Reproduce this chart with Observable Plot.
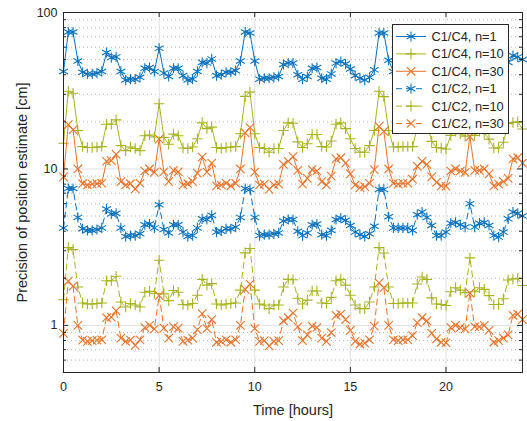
<!DOCTYPE html>
<html><head><meta charset="utf-8">
<script src="https://cdn.jsdelivr.net/npm/d3@7"></script>
<script src="https://cdn.jsdelivr.net/npm/@observablehq/plot@0.6"></script>
<style>body{margin:0;background:#fff;} #chart svg{display:block;}</style>
</head><body><div id="chart"></div>
<script>
// sample times (hours), one sample every 15 minutes
const hours = d3.range(0, 24.001, 0.25);

const c4n1 = [
 42, 75, 75, 49,   41.5, 40.5, 40.5, 41,   42, 55.5, 51.5, 52,   42, 37, 37.5, 37.5,
 38.5, 44, 44.5, 42,   59, 41, 39, 44,   44, 39.5, 37, 37.5,   42, 48, 47.5, 50.5,
 39.5, 40, 41.5, 41.5,   42.5, 49, 75, 74,   49, 37.5, 38, 38,   38.5, 39, 46.5, 47.5,
 47.5, 40, 37.5, 39,   44, 44.5, 38, 37.5,   40.5, 47.5, 48.5, 47,   43.5, 39.5, 38, 37,
 38.5, 43, 74, 74,   49.5, 42, 42, 42,   42, 40.5, 51, 53,   49, 43.5, 37.5, 37.5,
 39.5, 45, 45.5, 44,   42.5, 60, 42.5, 45,   45.5, 43.5, 37.5, 36.7,   39.5, 48, 53, 52,
 50];
const c4n10 = [
 14.6, 31.4, 30.5, 17.6,   13.9, 13.7, 13.7, 13.8,   13.9, 19.3, 19.3, 20.6,   14.1, 13.1, 13.8, 13.5,
 13.1, 16.3, 16.5, 16.0,   26.1, 15.9, 14.4, 16.7,   16.3, 13.6, 13.5, 13.8,   15.6, 19.7, 18.1, 18.5,
 13.7, 13.5, 13.7, 13.8,   13.9, 16.8, 29.1, 31,   16.8, 13.7, 13.5, 12.8,   13.5, 13.5, 17.6, 19.7,
 19.6, 14.9, 13.7, 14.5,   16.6, 16.6, 13.9, 13.8,   15.1, 19.3, 19.7, 18.1,   15.6, 13.5, 12.8, 12.8,
 14.1, 17.6, 31.4, 29,   17.6, 13.8, 13.8, 13.9,   13.9, 13.9, 18.4, 20.4,   19.7, 15, 13.7, 13.6,
 13.4, 16.4, 17.4, 16.8,   16.2, 27, 16.4, 17.4,   17, 15.5, 13.6, 13.6,   14.8, 19.5, 19.8, 20,
 18];
const c4n30 = [
 8.9, 19.2, 17.8, 10.0,   8.05, 7.9, 8.0, 8.05,   8.1, 11.2, 11.3, 12.4,   8.3, 7.9, 8.05, 7.45,
 8.1, 9.7, 10.0, 9.5,   15.5, 9.6, 8.3, 9.8,   9.6, 7.9, 8.05, 8.3,   9.4, 11.9, 9.55, 10.9,
 7.8, 7.9, 8.1, 7.8,   8.1, 10, 17, 18.4,   9.55, 7.9, 8.0, 7.4,   7.9, 8.0, 10.7, 11.2,
 12.0, 9.8, 8.0, 8.7,   9.9, 9.7, 8.3, 7.9,   9.0, 11.6, 11.8, 10.9,   9.3, 7.9, 7.6, 7.7,
 8.1, 9.9, 18.7, 17.4,   10, 8.1, 8.0, 8.1,   8.1, 8.6, 10.4, 11.2,   10.7, 8.9, 8.2, 7.8,
 7.75, 9.7, 10.0, 9.7,   9.5, 16.1, 9.8, 9.8,   10.0, 9.3, 7.8, 8.0,   8.3, 8.7, 11.6, 11.8,
 10.9];
const c2n1 = [
 4.2, 7.5, 7.5, 4.9,   4.15, 4.05, 4.05, 4.1,   4.2, 5.55, 5.15, 5.2,   4.2, 3.7, 3.75, 3.75,
 3.85, 4.4, 4.45, 4.2,   5.9, 4.1, 3.9, 4.4,   4.4, 3.95, 3.7, 3.75,   4.2, 4.8, 4.75, 5.05,
 3.95, 4.0, 4.15, 4.15,   4.25, 4.9, 7.5, 7.4,   4.9, 3.75, 3.8, 3.8,   3.85, 3.9, 4.65, 4.75,
 4.75, 4.0, 3.75, 3.9,   4.4, 4.45, 3.8, 3.75,   4.05, 4.75, 4.85, 4.7,   4.35, 3.95, 3.8, 3.7,
 3.85, 4.3, 7.4, 7.4,   4.95, 4.2, 4.2, 4.2,   4.2, 4.05, 5.1, 5.3,   4.9, 4.35, 3.75, 3.75,
 3.95, 4.5, 4.55, 4.4,   4.25, 6.0, 4.25, 4.5,   4.55, 4.35, 3.75, 3.67,   3.95, 4.8, 5.3, 5.2,
 5.0];
const c2n10 = [
 1.46, 3.14, 3.05, 1.76,   1.39, 1.37, 1.37, 1.38,   1.39, 1.93, 1.93, 2.06,   1.41, 1.31, 1.38, 1.35,
 1.31, 1.63, 1.65, 1.60,   2.61, 1.59, 1.44, 1.67,   1.63, 1.36, 1.35, 1.38,   1.56, 1.97, 1.81, 1.85,
 1.37, 1.35, 1.37, 1.38,   1.39, 1.68, 2.91, 3.1,   1.68, 1.37, 1.35, 1.28,   1.35, 1.35, 1.76, 1.97,
 1.96, 1.49, 1.37, 1.45,   1.66, 1.66, 1.39, 1.38,   1.51, 1.93, 1.97, 1.81,   1.56, 1.35, 1.28, 1.28,
 1.41, 1.76, 3.14, 2.9,   1.76, 1.38, 1.38, 1.39,   1.39, 1.39, 1.84, 2.04,   1.97, 1.5, 1.37, 1.36,
 1.34, 1.64, 1.74, 1.68,   1.62, 2.7, 1.64, 1.74,   1.7, 1.55, 1.36, 1.36,   1.48, 1.95, 1.98, 2.0,
 1.8];
const c2n30 = [
 0.89, 1.92, 1.78, 1.0,   0.805, 0.79, 0.8, 0.805,   0.81, 1.12, 1.13, 1.24,   0.83, 0.79, 0.805, 0.745,
 0.81, 0.97, 1.0, 0.95,   1.55, 0.96, 0.83, 0.98,   0.96, 0.79, 0.805, 0.83,   0.94, 1.19, 0.955, 1.09,
 0.78, 0.79, 0.81, 0.78,   0.81, 1.0, 1.7, 1.84,   0.955, 0.79, 0.8, 0.74,   0.79, 0.8, 1.07, 1.12,
 1.2, 0.98, 0.8, 0.87,   0.99, 0.97, 0.83, 0.79,   0.9, 1.16, 1.18, 1.09,   0.93, 0.79, 0.76, 0.77,
 0.81, 0.99, 1.87, 1.74,   1.0, 0.81, 0.8, 0.81,   0.81, 0.86, 1.04, 1.12,   1.07, 0.89, 0.82, 0.78,
 0.775, 0.97, 1.0, 0.97,   0.95, 1.61, 0.98, 0.98,   1.0, 0.93, 0.78, 0.8,   0.83, 0.87, 1.16, 1.18,
 1.09];

const seriesNames = ["C1/C4, n=1", "C1/C4, n=10", "C1/C4, n=30", "C1/C2, n=1", "C1/C2, n=10", "C1/C2, n=30"];
const seriesValues = [c4n1, c4n10, c4n30, c2n1, c2n10, c2n30];
const seriesColors = ["#0B72BE", "#A8B420", "#E8742C", "#0B72BE", "#A8B420", "#E8742C"];
const seriesSymbols = ["asterisk", "plus", "times", "asterisk", "plus", "times"];
const seriesDashed = [false, false, false, true, true, true];

const xTicks = [0, 5, 10, 15, 20];
const yMajor = [1, 10, 100];
const yMinor = [0.6, 0.7, 0.8, 0.9, 2, 3, 4, 5, 6, 7, 8, 9, 20, 30, 40, 50, 60, 70, 80, 90];
const xLabel = "Time [hours]";
const yLabel = "Precision of position estimate [cm]";

const W = 527, H = 421, mL = 63, mR = 5, mT = 12, mB = 49;
const fw = W - mL - mR, fh = H - mT - mB;
const ink = "#262626";
const symR = {asterisk: 4.8, plus: 3.5, times: 3.9};
const dash = "6,4";

const rows = seriesValues.map((vals, i) => vals.map((v, j) => ({t: hours[j], v, s: seriesNames[i]})));

const seriesMarks = rows.flatMap((data, i) => [
  Plot.line(data, {x: "t", y: "v", stroke: seriesColors[i], strokeWidth: 1,
    strokeDasharray: seriesDashed[i] ? dash : null}),
  Plot.dot(data, {x: "t", y: "v", symbol: seriesSymbols[i], r: symR[seriesSymbols[i]],
    stroke: seriesColors[i], fill: "none", strokeWidth: 1.1})
]);

const chart = Plot.plot({
  width: W, height: H,
  marginLeft: mL, marginRight: mR, marginTop: mT, marginBottom: mB,
  style: {fontFamily: "'Liberation Sans', Arial, Helvetica, sans-serif", color: ink, background: "#fff"},
  x: {domain: [0, 24]},
  y: {type: "log", domain: [0.5, 100]},
  marks: [
    Plot.ruleY(yMinor, {y: d => d, stroke: "#b8b8b8", strokeDasharray: "1,3", strokeWidth: 1}),
    Plot.ruleX(xTicks.filter(d => d > 0), {x: d => d, stroke: "#e0e0e0", strokeWidth: 1}),
    Plot.ruleY(yMajor.filter(d => d < 100), {y: d => d, stroke: "#e0e0e0", strokeWidth: 1}),
    ...seriesMarks,
    Plot.frame({stroke: ink, strokeWidth: 1}),
    // inward tick marks (box on)
    Plot.tickX(xTicks, {x: d => d, insetTop: fh - 5, stroke: ink}),
    Plot.tickX(xTicks, {x: d => d, insetBottom: fh - 5, stroke: ink}),
    Plot.tickY(yMajor, {y: d => d, insetRight: fw - 5, stroke: ink}),
    Plot.tickY(yMajor, {y: d => d, insetLeft: fw - 5, stroke: ink}),
    Plot.tickY(yMinor, {y: d => d, insetRight: fw - 3, stroke: ink}),
    Plot.tickY(yMinor, {y: d => d, insetLeft: fw - 3, stroke: ink}),
    Plot.axisX(xTicks, {tickSize: 0, tickPadding: 10, fontSize: 12.5, label: null, tickFormat: d => String(d)}),
    Plot.axisY(yMajor, {tickSize: 0, tickPadding: 6, fontSize: 12.5, label: null, tickFormat: d => String(d)}),
    Plot.text([xLabel], {frameAnchor: "bottom", dy: 38, fontSize: 14.5, fill: ink, lineAnchor: "middle", textAnchor: "middle"}),
    Plot.text([yLabel], {frameAnchor: "left", dx: -41, rotate: -90, fontSize: 14.5, fill: ink, lineAnchor: "middle", textAnchor: "middle"})
  ]
});

// legend inside the axes (north-east)
const svg = d3.select(chart);
const lg = svg.append("g").attr("font-family", "'Liberation Sans', Arial, sans-serif").attr("font-size", 12.8)
  .attr("text-anchor", "start");
const lx = 392, ly = 24, lw = 116, lh = 109, rowH = 17.4;
lg.append("rect").attr("x", lx + 0.5).attr("y", ly + 0.5).attr("width", lw).attr("height", lh)
  .attr("fill", "#fff").attr("stroke", ink).attr("stroke-width", 1);
const symMap = {asterisk: d3.symbolAsterisk, plus: d3.symbolPlus, times: d3.symbolTimes};
seriesNames.forEach((name, i) => {
  const cy = ly + 12.5 + i * rowH;
  lg.append("line").attr("x1", lx + 4).attr("x2", lx + 34).attr("y1", cy).attr("y2", cy)
    .attr("stroke", seriesColors[i]).attr("stroke-width", 1)
    .attr("stroke-dasharray", seriesDashed[i] ? dash : null);
  const r = symR[seriesSymbols[i]];
  lg.append("path").attr("d", d3.symbol(symMap[seriesSymbols[i]], Math.PI * r * r)())
    .attr("transform", `translate(${lx + 19},${cy})`)
    .attr("fill", "none").attr("stroke", seriesColors[i]).attr("stroke-width", 1.1);
  lg.append("text").attr("x", lx + 39.5).attr("y", cy).attr("dy", "0.35em")
    .attr("text-anchor", "start").attr("fill", ink).text(name);
});

document.getElementById("chart").appendChild(chart);
</script>
</body></html>
